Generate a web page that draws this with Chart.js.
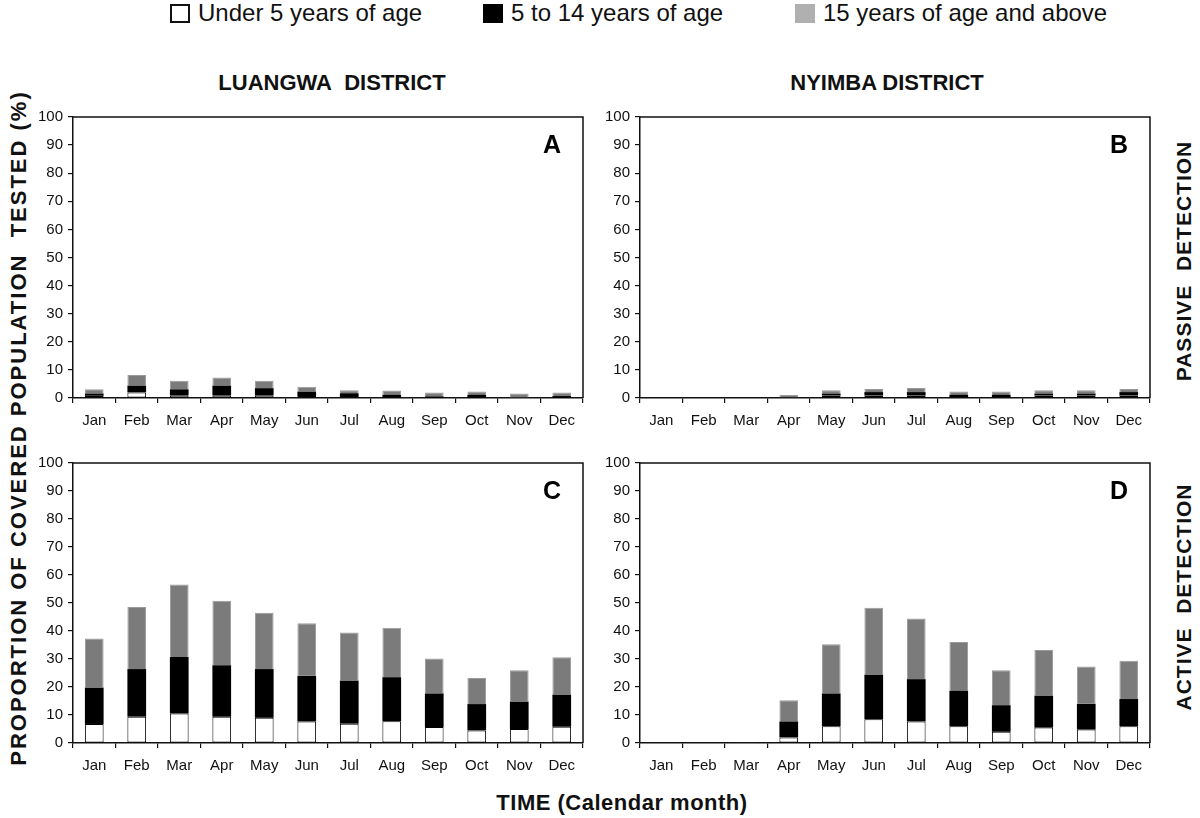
<!DOCTYPE html>
<html>
<head>
<meta charset="utf-8">
<script src="https://cdn.jsdelivr.net/npm/chart.js@4.4.0/dist/chart.umd.min.js"></script>
<style>
  body { margin: 0; background: #fff; font-family: "Liberation Sans", Arial, sans-serif; color: #111; }
  #page { position: relative; width: 1200px; height: 818px; overflow: hidden; }
  .abs { position: absolute; white-space: nowrap; }
  .legend-item { position: absolute; top: 2px; height: 22px; display: flex; align-items: center; font-size: 24px; }
  .swatch { width: 20px; height: 19px; margin-right: 8px; box-sizing: border-box; }
  .district { font-weight: bold; font-size: 22px; top: 70px; transform: translateX(-50%); }
  .vert { font-weight: bold; transform: translate(-50%, -50%) rotate(-90deg); }
  .panel { position: absolute; }
</style>
</head>
<body>
<div id="page">
  <div class="legend-item" style="left:170px"><div class="swatch" style="border:2px solid #111;background:#fff"></div>Under 5 years of age</div>
  <div class="legend-item" style="left:483px"><div class="swatch" style="background:#000"></div>5 to 14 years of age</div>
  <div class="legend-item" style="left:795px"><div class="swatch" style="background:#b0b0b0"></div>15 years of age and above</div>

  <div class="abs district" style="left:332px">LUANGWA&nbsp; DISTRICT</div>
  <div class="abs district" style="left:887px">NYIMBA DISTRICT</div>

  <div class="abs vert" style="left:19px; top:428px; font-size:22px; letter-spacing:2px">PROPORTION OF COVERED POPULATION&nbsp; TESTED (%)</div>
  <div class="abs vert" style="left:1184px; top:261px; font-size:21px; letter-spacing:1px">PASSIVE&nbsp; DETECTION</div>
  <div class="abs vert" style="left:1184px; top:597px; font-size:21px; letter-spacing:1px">ACTIVE&nbsp; DETECTION</div>
  <div class="abs" style="left:622px; top:790px; transform:translateX(-50%); font-weight:bold; font-size:22px; letter-spacing:0.5px">TIME (Calendar month)</div>

  <div class="panel" id="pA"><canvas id="cA"></canvas></div>
  <div class="panel" id="pB"><canvas id="cB"></canvas></div>
  <div class="panel" id="pC"><canvas id="cC"></canvas></div>
  <div class="panel" id="pD"><canvas id="cD"></canvas></div>
</div>
<script>
const months = ['Jan', 'Feb', 'Mar', 'Apr', 'May', 'Jun', 'Jul', 'Aug', 'Sep', 'Oct', 'Nov', 'Dec'];
const seriesNames = ['Under 5 years of age', '5 to 14 years of age', '15 years of age and above'];

// A: Luangwa, passive detection (% of covered population tested)
const luangwaPassiveUnder5 = [0.8, 2.0, 1.0, 1.0, 1.0, 0.7, 0.3, 0.2, 0.1, 0.2, 0, 0.1];
const luangwaPassive5to14  = [0.8, 2.4, 2.1, 3.4, 2.5, 1.6, 1.4, 0.9, 0.5, 0.9, 0.2, 0.6];
const luangwaPassive15plus = [1.5, 3.8, 3.0, 2.9, 2.6, 1.7, 1.1, 1.6, 1.4, 1.2, 1.4, 1.3];

// B: Nyimba, passive detection
const nyimbaPassiveUnder5 = [0, 0, 0, 0.1, 0.9, 0.9, 0.9, 0.3, 0.3, 0.9, 0.9, 0.9];
const nyimbaPassive5to14  = [0, 0, 0, 0.1, 0.7, 1.2, 1.2, 0.8, 0.8, 0.7, 0.7, 1.2];
const nyimbaPassive15plus = [0, 0, 0, 0.9, 1.2, 1.1, 1.5, 1.2, 1.2, 1.2, 1.2, 1.1];

// C: Luangwa, active detection
const luangwaActiveUnder5 = [6.8, 9.4, 10.5, 9.4, 9.0, 7.7, 6.9, 7.8, 5.7, 4.5, 5.0, 5.8];
const luangwaActive5to14  = [13.0, 17.0, 20.2, 18.4, 17.4, 16.3, 15.4, 15.7, 12.0, 9.4, 9.8, 11.5];
const luangwaActive15plus = [17.5, 22.2, 25.9, 23.0, 20.1, 18.8, 17.2, 17.7, 12.5, 9.3, 11.2, 13.3];

// D: Nyimba, active detection
const nyimbaActiveUnder5 = [0, 0, 0, 2.0, 6.0, 8.5, 7.7, 6.0, 4.0, 5.5, 4.8, 6.0];
const nyimbaActive5to14  = [0, 0, 0, 5.7, 11.7, 15.9, 15.1, 12.6, 9.5, 11.4, 9.2, 9.7];
const nyimbaActive15plus = [0, 0, 0.3, 7.6, 17.6, 23.9, 21.7, 17.5, 12.5, 16.3, 13.3, 13.7];

const yTicks = [0, 10, 20, 30, 40, 50, 60, 70, 80, 90, 100];

const AXIS_W = 52, XAXIS_H = 40, PAD_TOP = 6, PAD_RIGHT = 4;

// frame + panel letter
const framePlugin = {
  id: 'frame',
  afterDraw(chart, args, opts) {
    const { ctx, chartArea: a } = chart;
    ctx.save();
    ctx.strokeStyle = '#111';
    ctx.lineWidth = 1.5;
    ctx.beginPath();
    ctx.moveTo(a.left, a.top);
    ctx.lineTo(a.right, a.top);
    ctx.lineTo(a.right, a.bottom);
    ctx.stroke();
    ctx.fillStyle = '#000';
    ctx.font = 'bold 25px "Liberation Sans", Arial, sans-serif';
    ctx.textAlign = 'center';
    ctx.textBaseline = 'middle';
    ctx.fillText(opts.letter, a.right - 31, a.top + 29);
    ctx.restore();
  }
};

function makePanel(divId, canvasId, box, letter, under5, mid, older) {
  const div = document.getElementById(divId);
  const w = box.right - box.left + AXIS_W + PAD_RIGHT;
  const h = box.bottom - box.top + PAD_TOP + XAXIS_H;
  div.style.left = (box.left - AXIS_W) + 'px';
  div.style.top = (box.top - PAD_TOP) + 'px';
  div.style.width = w + 'px';
  div.style.height = h + 'px';
  const bw = ctx => (ctx.raw > 0 ? 1 : 0);
  new Chart(document.getElementById(canvasId), {
    type: 'bar',
    data: {
      labels: months,
      datasets: [
        { label: seriesNames[0], data: under5, backgroundColor: '#fff', borderColor: '#000', borderWidth: bw, borderSkipped: false },
        { label: seriesNames[1], data: mid, backgroundColor: '#000', borderWidth: 0 },
        { label: seriesNames[2], data: older, backgroundColor: '#7b7b7b', borderColor: '#9a9a9a', borderWidth: bw, borderSkipped: 'bottom' }
      ]
    },
    options: {
      responsive: true,
      maintainAspectRatio: false,
      animation: false,
      layout: { padding: { top: PAD_TOP, right: PAD_RIGHT, left: 0, bottom: 0 } },
      datasets: { bar: { barPercentage: 0.44, categoryPercentage: 1 } },
      plugins: { legend: { display: false }, tooltip: { enabled: false }, frame: { letter } },
      scales: {
        x: {
          stacked: true,
          offset: true,
          afterFit: s => { s.height = XAXIS_H; },
          border: { display: true, color: '#111', width: 1.5 },
          grid: { display: true, drawOnChartArea: false, drawTicks: true, tickLength: 5, color: '#111', lineWidth: 1.2, offset: true },
          ticks: { color: '#111', font: { size: 15, family: '"Liberation Sans", Arial, sans-serif' }, padding: 9, maxRotation: 0, autoSkip: false }
        },
        y: {
          stacked: true,
          min: 0, max: 100,
          afterFit: s => { s.width = AXIS_W; },
          afterBuildTicks: s => { s.ticks = yTicks.map(v => ({ value: v })); },
          border: { display: true, color: '#111', width: 1.5 },
          grid: { display: true, drawOnChartArea: false, drawTicks: true, tickLength: 5, color: '#111', lineWidth: 1.2 },
          ticks: { color: '#111', font: { size: 15, family: '"Liberation Sans", Arial, sans-serif' }, padding: 5 }
        }
      }
    },
    plugins: [framePlugin]
  });
}

makePanel('pA', 'cA', { left: 73, right: 583, top: 109, bottom: 398 }, 'A', luangwaPassiveUnder5, luangwaPassive5to14, luangwaPassive15plus);
makePanel('pB', 'cB', { left: 640, right: 1150, top: 109, bottom: 398 }, 'B', nyimbaPassiveUnder5, nyimbaPassive5to14, nyimbaPassive15plus);
makePanel('pC', 'cC', { left: 73, right: 583, top: 455, bottom: 743 }, 'C', luangwaActiveUnder5, luangwaActive5to14, luangwaActive15plus);
makePanel('pD', 'cD', { left: 640, right: 1150, top: 455, bottom: 743 }, 'D', nyimbaActiveUnder5, nyimbaActive5to14, nyimbaActive15plus);
</script>
</body>
</html>
